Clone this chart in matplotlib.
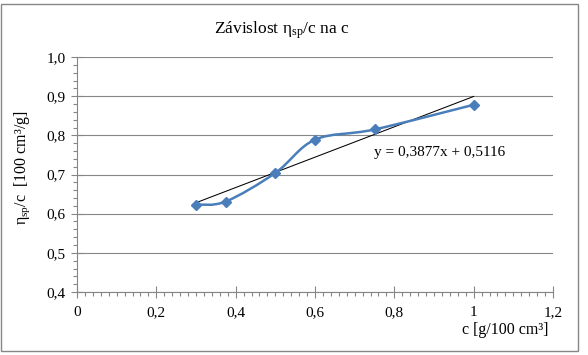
import matplotlib
matplotlib.use("Agg")
import matplotlib.pyplot as plt
from matplotlib.path import Path
from matplotlib.patches import PathPatch, Rectangle
from matplotlib.ticker import MultipleLocator, FuncFormatter
import numpy as np

c_vals = [0.30, 0.375, 0.50, 0.60, 0.75, 1.00]
eta_vals = [0.623, 0.631, 0.704, 0.789, 0.815, 0.878]
slope = 0.3877
intercept = 0.5116
trend_x = [0.30, 1.00]
title_text = "Závislost $\\mathregular{\\eta_{sp}}$/c na c"
ylabel_text = "$\\mathregular{\\eta_{sp}}$/c  [100 cm³/g]"
xlabel_text = "c [g/100 cm³]"
eq_text = "y = 0,3877x + 0,5116"

plt.rcParams['font.family'] = ['Liberation Serif', 'DejaVu Serif']
plt.rcParams['mathtext.fontset'] = 'custom'
plt.rcParams['mathtext.rm'] = 'Liberation Serif'
plt.rcParams['mathtext.it'] = 'Liberation Serif:italic'

fig = plt.figure(figsize=(5.88, 3.55), dpi=100)
ax = fig.add_axes([77/588, 1-292/355, (553-77)/588, (292-57)/355])

# figure border
fig.patches.append(Rectangle((1/588, 1-351/355), 577/588, 347/355, transform=fig.transFigure,
                             fill=False, edgecolor='#868686', lw=1.0))

# smooth line (Catmull-Rom style Bezier like Excel)
pts = np.column_stack([c_vals, eta_vals])
n = len(pts)
verts = [tuple(pts[0])]
codes = [Path.MOVETO]
for i in range(n - 1):
    p0 = pts[i - 1] if i > 0 else pts[i]
    p1 = pts[i]
    p2 = pts[i + 1]
    p3 = pts[i + 2] if i + 2 < n else pts[i + 1]
    c1 = p1 + (p2 - p0) / 6.0
    c2 = p2 - (p3 - p1) / 6.0
    verts += [tuple(c1), tuple(c2), tuple(p2)]
    codes += [Path.CURVE4] * 3
path = Path(verts, codes)
ax.add_patch(PathPatch(path, facecolor='none', edgecolor='#4A7EBB', lw=1.8, zorder=3))
ax.plot(c_vals, eta_vals, linestyle='none', marker='D', markersize=5.5,
        color='#4A7EBB', zorder=4)

# trendline
tx = np.array(trend_x)
ax.plot(tx, slope * tx + intercept, color='black', lw=0.75, zorder=2)

ax.set_xlim(0, 1.2)
ax.set_ylim(0.4, 1.0)
ax.xaxis.set_major_locator(MultipleLocator(0.2))
ax.xaxis.set_minor_locator(MultipleLocator(0.02))
ax.yaxis.set_major_locator(MultipleLocator(0.1))
ax.yaxis.set_minor_locator(MultipleLocator(0.02))

def fmt_x(v, pos):
    s = f"{v:.1f}"
    if s.endswith(".0"):
        s = s[:-2]
    return s.replace('.', ',')

def fmt_y(v, pos):
    return f"{v:.1f}".replace('.', ',')

ax.xaxis.set_major_formatter(FuncFormatter(fmt_x))
ax.yaxis.set_major_formatter(FuncFormatter(fmt_y))

ax.grid(axis='y', which='major', color='#868686', lw=0.8, zorder=0)
ax.set_axisbelow(True)
for s in ['top', 'right']:
    ax.spines[s].set_visible(False)
for s in ['left', 'bottom']:
    ax.spines[s].set_color('#868686')
    ax.spines[s].set_linewidth(0.8)

ax.tick_params(axis='x', which='major', direction='inout', length=8, width=0.8,
               color='#868686', labelsize=11, pad=6)
ax.tick_params(axis='x', which='minor', direction='out', length=3, width=0.8, color='#868686')
ax.tick_params(axis='y', which='major', direction='inout', length=8, width=0.8,
               color='#868686', labelsize=11, pad=4)
ax.tick_params(axis='y', which='minor', direction='out', length=3, width=0.8, color='#868686')

fig.text(282/588, 1-30/355, title_text, ha='center', va='center', fontsize=12.5)
fig.text(22/588, 1-168/355, ylabel_text, ha='center', va='center', rotation=90, fontsize=11.5)
fig.text(548/588, 1-330/355, xlabel_text, ha='right', va='center', fontsize=11.5)
ax.text(0.749, 0.7565, eq_text, ha='left', va='center', fontsize=11)

fig.savefig("out.png", dpi=100)
